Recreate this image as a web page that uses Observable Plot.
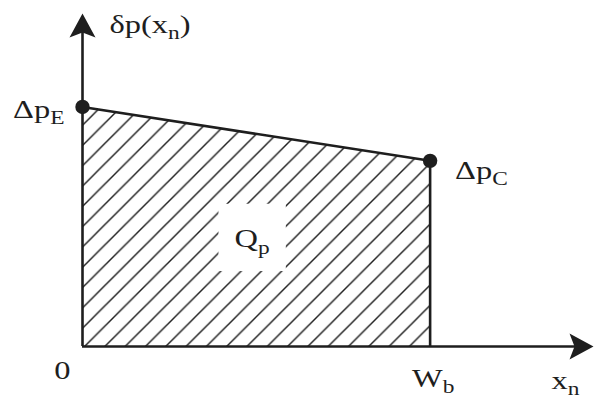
<!DOCTYPE html>
<html>
<head>
<meta charset="utf-8">
<script src="https://cdn.jsdelivr.net/npm/d3@7"></script>
<script src="https://cdn.jsdelivr.net/npm/@observablehq/plot@0.6"></script>
<style>
  html, body { margin: 0; padding: 0; background: #fff; }
</style>
</head>
<body>
<div id="chart"></div>
<script>
// Excess hole profile across the neutral base: a straight line from Δp_E at x_n = 0
// down to Δp_C at x_n = W_b; the hatched area under it is the stored charge Q_p.
const positions = [0, 1];          // x_n at the emitter edge (0) and the collector edge (W_b)
const excess = [1, 0.775];         // δp at those edges, relative to Δp_E
const pointLabels = ["Δp_{E}", "Δp_{C}"];
const tickLabels = ["0", "W_{b}"];
const axisTitles = ["x_{n}", "δp(x_{n})"];
const areaLabel = "Q_{p}";
const axisEnds = [1.47, 1.39];     // how far the x and y axes reach

const W = 594, H = 398;
const ink = "#1e1e1e";
const serif = "'Liberation Serif', 'Times New Roman', serif";
const fs = 25;          // label font size
const widen = 1.3;      // horizontal stretch of the label lettering

const profile = positions.map((x, i) => ({x, y: excess[i], label: pointLabels[i]}));

// Filled arrowhead with a slightly notched back, tip at the origin, pointing up.
const arrowHead = {
  draw(ctx) {
    ctx.moveTo(0, 0);
    ctx.lineTo(13, 24);
    ctx.lineTo(0, 19);
    ctx.lineTo(-13, 24);
    ctx.closePath();
  }
};

const label = (data, o) => Plot.text(data, {fontSize: fs, fill: ink, lineAnchor: "middle", ...o});

const qx = 0.488, qy = 0.447;      // where the Q_p label sits inside the area

const chart = Plot.plot({
  width: W,
  height: H,
  marginLeft: 82,
  marginRight: 1,
  marginTop: 13,
  marginBottom: 52,
  x: {domain: [0, axisEnds[0]], axis: null},
  y: {domain: [0, axisEnds[1]], axis: null},
  style: {background: "#fff", fontFamily: serif},
  marks: [
    // hatched region under the profile
    Plot.areaY(profile, {x: "x", y: "y", fill: "url(#hatch)"}),
    // clear patch behind the Q_p label
    Plot.dot([areaLabel], {x: qx, y: qy, dy: -2, symbol: "square", r: 38, fill: "#fff", stroke: null}),
    label([areaLabel], {x: qx, y: qy, text: d => d, textAnchor: "middle"}),

    // axes
    Plot.ruleY([0], {x1: 0, x2: axisEnds[0] - 0.03, stroke: ink, strokeWidth: 2.6}),
    Plot.ruleX([0], {y1: 0, y2: axisEnds[1] - 0.05, stroke: ink, strokeWidth: 2.6}),
    Plot.dot([axisEnds[0]], {x: d => d, y: 0, symbol: arrowHead, rotate: 90, fill: ink, stroke: null}),
    Plot.dot([axisEnds[1]], {x: 0, y: d => d, symbol: arrowHead, rotate: 0, fill: ink, stroke: null}),

    // profile edges
    Plot.line(profile, {x: "x", y: "y", stroke: ink, strokeWidth: 2.6}),
    Plot.ruleX([profile[1]], {x: "x", y1: 0, y2: "y", stroke: ink, strokeWidth: 2.6}),
    Plot.dot(profile, {x: "x", y: "y", r: 7.2, fill: ink, stroke: null}),

    // point labels
    label([profile[0]], {x: "x", y: "y", text: "label", textAnchor: "end", dx: -18, dy: 3}),
    label([profile[1]], {x: "x", y: "y", text: "label", textAnchor: "start", dx: 25, dy: 10}),

    // tick labels along x_n
    label([tickLabels[0]], {x: positions[0], y: 0, text: d => d, textAnchor: "middle", dx: -20, dy: 24}),
    label([tickLabels[1]], {x: positions[1], y: 0, text: d => d, textAnchor: "start", dx: -18, dy: 32}),

    // axis titles
    label([axisTitles[0]], {x: axisEnds[0], y: 0, text: d => d, textAnchor: "end", dx: -14, dy: 34}),
    label([axisTitles[1]], {x: 0, y: axisEnds[1], text: d => d, textAnchor: "start", dx: 27, dy: 11})
  ]
});

document.getElementById("chart").append(chart);

// 45° hatch pattern for the charge area
const P = 20.3;
const pat = d3.select(chart).insert("defs", ":first-child")
  .append("pattern")
  .attr("id", "hatch")
  .attr("patternUnits", "userSpaceOnUse")
  .attr("width", P)
  .attr("height", P)
  .attr("x", 431 % P)
  .attr("y", 0);
pat.append("path")
  .attr("d", `M-1,${P + 1}L${P + 1},-1M-1,1L1,-1M${P - 1},${P + 1}L${P + 1},${P - 1}`)
  .attr("stroke", ink)
  .attr("stroke-width", 1.45)
  .attr("fill", "none");

// Render "_{...}" as lowered, smaller subscripts, and widen the lettering about its anchor
d3.select(chart).selectAll("text").each(function () {
  const el = d3.select(this);
  const raw = this.textContent;
  if (raw.includes("_{")) {
    const size = parseFloat(el.attr("font-size")) || fs;
    const shift = size * 0.25;
    el.text(null);
    const parts = raw.split(/_\{([^}]*)\}/);
    let lowered = false;
    parts.forEach((p, i) => {
      if (!p) return;
      const t = el.append("tspan").text(p);
      if (i % 2 === 1) {
        t.attr("font-size", size * 0.72).attr("dy", shift);
        lowered = true;
      } else if (lowered) {
        t.attr("dy", -shift);
        lowered = false;
      }
    });
  }
  const xs = this.x && this.x.baseVal, ys = this.y && this.y.baseVal;
  const x = xs && xs.numberOfItems ? xs.getItem(0).value : 0;
  const y = ys && ys.numberOfItems ? ys.getItem(0).value : 0;
  const list = this.transform.baseVal;
  const t1 = chart.createSVGTransform(); t1.setTranslate(x, y);
  const t2 = chart.createSVGTransform(); t2.setScale(widen, 1);
  const t3 = chart.createSVGTransform(); t3.setTranslate(-x, -y);
  list.appendItem(t1);
  list.appendItem(t2);
  list.appendItem(t3);
});
</script>
</body>
</html>
